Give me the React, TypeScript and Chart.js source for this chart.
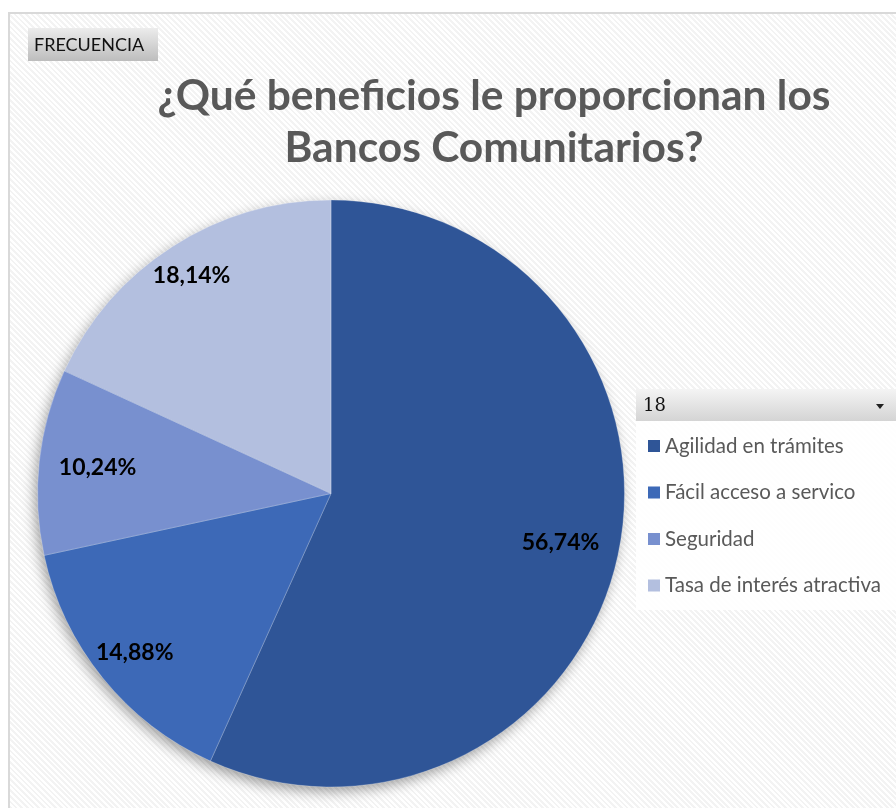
import React, { useEffect, useRef } from "react";
import { Chart, registerables } from "chart.js";

Chart.register(...registerables);

const categories = [
  "Agilidad en trámites",
  "Fácil acceso a servico",
  "Seguridad",
  "Tasa de interés atractiva",
];
const percentages = [56.74, 14.88, 10.24, 18.14];
const sliceColors = ["#2F5597", "#3D69B7", "#7890CF", "#B3BFDF"];
const titleLines = ["¿Qué beneficios le proporcionan los", "Bancos Comunitarios?"];
const fieldButtonLabel = "FRECUENCIA";
const legendHeaderLabel = "18";

const labelRadiusFraction = [0.8, 0.86, 0.8, 0.88];

function fmt(v: number) {
  return v.toFixed(2).replace(".", ",") + "%";
}

const decorPlugin = {
  id: "decor",
  beforeDatasetsDraw(chart: any) {
    const meta = chart.getDatasetMeta(0);
    const arc = meta.data[0];
    if (!arc) return;
    const ctx = chart.ctx;
    ctx.save();
    ctx.shadowColor = "rgba(0,0,0,0.4)";
    ctx.shadowBlur = 14;
    ctx.shadowOffsetX = -3;
    ctx.shadowOffsetY = 5;
    ctx.fillStyle = "#2F5597";
    ctx.beginPath();
    ctx.arc(arc.x, arc.y, arc.outerRadius - 1, 0, Math.PI * 2);
    ctx.fill();
    ctx.restore();
  },
  afterDatasetsDraw(chart: any) {
    const ctx = chart.ctx;
    const meta = chart.getDatasetMeta(0);
    const data = chart.data.datasets[0].data as number[];
    ctx.save();
    ctx.font = "bold 23px Lato";
    ctx.fillStyle = "#000000";
    ctx.textAlign = "center";
    ctx.textBaseline = "middle";
    meta.data.forEach((a: any, i: number) => {
      const mid = (a.startAngle + a.endAngle) / 2;
      const r = a.outerRadius * labelRadiusFraction[i];
      ctx.fillText(fmt(data[i]), a.x + Math.cos(mid) * r, a.y + Math.sin(mid) * r);
    });
    ctx.restore();
  },
  afterDraw(chart: any) {
    const ctx = chart.ctx;
    ctx.save();
    // Title
    ctx.font = "bold 42.5px Lato";
    ctx.fillStyle = "#595959";
    ctx.textAlign = "center";
    ctx.textBaseline = "alphabetic";
    ctx.fillText(titleLines[0], 494, 110);
    ctx.fillText(titleLines[1], 494, 162);

    // Field button
    let g = ctx.createLinearGradient(0, 28, 0, 61);
    g.addColorStop(0, "#ececec");
    g.addColorStop(1, "#bdbdbd");
    ctx.fillStyle = g;
    ctx.fillRect(28, 28, 130, 33);
    ctx.font = "18px Lato";
    ctx.fillStyle = "#111111";
    ctx.textAlign = "left";
    ctx.textBaseline = "middle";
    ctx.fillText(fieldButtonLabel, 34, 45);

    // Legend body
    ctx.fillStyle = "rgba(255,255,255,0.85)";
    ctx.fillRect(636, 421, 262, 189);
    // Legend header
    g = ctx.createLinearGradient(0, 389, 0, 421);
    g.addColorStop(0, "#f4f4f4");
    g.addColorStop(1, "#d4d4d4");
    ctx.fillStyle = g;
    ctx.fillRect(636, 389, 262, 32);
    ctx.font = "18px 'DejaVu Serif'";
    ctx.fillStyle = "#111111";
    ctx.fillText(legendHeaderLabel, 643, 406);
    ctx.fillStyle = "#222222";
    ctx.beginPath();
    ctx.moveTo(876, 404);
    ctx.lineTo(884, 404);
    ctx.lineTo(880, 409);
    ctx.closePath();
    ctx.fill();

    // Legend items
    const labels = chart.data.labels as string[];
    const colors = chart.data.datasets[0].backgroundColor as string[];
    ctx.font = "20.5px Lato";
    labels.forEach((l, i) => {
      const y = 446 + i * 46.5;
      ctx.fillStyle = colors[i];
      ctx.fillRect(648, y - 6, 12, 12);
      ctx.fillStyle = "#595959";
      ctx.fillText(l, 665, y);
    });
    ctx.restore();
  },
};

export default function App() {
  const ref = useRef<HTMLCanvasElement>(null);
  useEffect(() => {
    if (!ref.current) return;
    const chart = new Chart(ref.current, {
      type: "pie",
      data: {
        labels: categories,
        datasets: [
          {
            data: percentages,
            backgroundColor: sliceColors,
            borderColor: "rgba(255,255,255,0.25)",
            borderWidth: 1,
          },
        ],
      },
      options: {
        responsive: false,
        animation: false,
        devicePixelRatio: 1,
        layout: { padding: { left: 37, right: 271, top: 199.5, bottom: 20.5 } },
        plugins: {
          legend: { display: false },
          title: { display: false },
          tooltip: { enabled: false },
        },
      },
      plugins: [decorPlugin],
    });
    return () => chart.destroy();
  }, []);

  return (
    <div
      style={{
        position: "absolute",
        left: 0,
        top: 0,
        width: 896,
        height: 808,
        background: "#ffffff",
        overflow: "hidden",
      }}
    >
      <div
        style={{
          position: "absolute",
          left: 8,
          top: 12,
          width: 900,
          height: 820,
          border: "2px solid #d9d9d9",
          background:
            "repeating-linear-gradient(45deg, #ffffff 0px, #ffffff 2px, #f3f3f3 2px, #f3f3f3 4px)",
        }}
      />
      <canvas
        ref={ref}
        width={896}
        height={808}
        style={{ position: "absolute", left: 0, top: 0, width: 896, height: 808 }}
      />
    </div>
  );
}
